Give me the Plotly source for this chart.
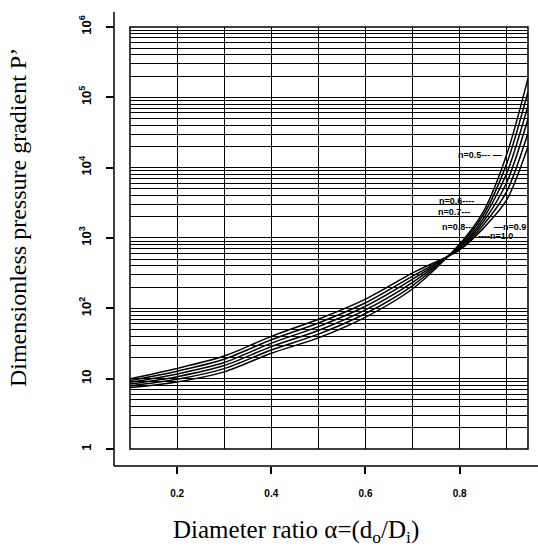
import plotly.graph_objects as go

# ---- data ----
alpha = [0.1, 0.2, 0.3, 0.4, 0.5, 0.6, 0.7, 0.8, 0.85, 0.9, 0.945]

p_n05 = [7.5, 9.0, 12.5, 23.0, 38.0, 75.0, 190.0, 820.0, 2350.0, 15500.0, 186000.0]
p_n06 = [7.9, 9.8, 13.9, 25.6, 43.0, 84.5, 211.0, 790.0, 2110.0, 11500.0, 119000.0]
p_n07 = [8.4, 10.7, 15.4, 28.6, 48.5, 95.0, 234.0, 760.0, 1890.0, 8400.0, 76000.0]
p_n08 = [8.9, 11.7, 17.0, 32.0, 55.0, 107.0, 260.0, 730.0, 1700.0, 6200.0, 49000.0]
p_n09 = [9.4, 12.8, 18.9, 35.8, 62.0, 120.0, 288.0, 700.0, 1530.0, 4600.0, 31000.0]
p_n10 = [10.0, 14.0, 21.0, 40.0, 70.0, 135.0, 320.0, 680.0, 1370.0, 3500.0, 20000.0]

series = [p_n05, p_n06, p_n07, p_n08, p_n09, p_n10]
series_names = ["n=0.5", "n=0.6", "n=0.7", "n=0.8", "n=0.9", "n=1.0"]

x_tick_vals = [0.2, 0.4, 0.6, 0.8]
x_tick_text = ["0.2", "0.4", "0.6", "0.8"]
x_minor_vals = [0.1, 0.3, 0.5, 0.7, 0.9]
y_tick_vals = [1, 10, 100, 1000, 10000, 100000, 1000000]
y_tick_text = ["1", "10", "10<sup>2</sup>", "10<sup>3</sup>", "10<sup>4</sup>",
               "10<sup>5</sup>", "10<sup>6</sup>"]
y_minor_vals = [m * 10 ** k for k in range(6) for m in range(2, 10)]

# label texts and their anchor positions (alpha, log10 P)
label_texts = ["n=0.5--- \u2014", "n=0.6----", "n=0.7---", "n=0.8---", "\u2014n=0.9", "----n=1.0"]
label_x = [0.894, 0.834, 0.826, 0.834, 0.868, 0.834]
label_y = [4.18, 3.527, 3.371, 3.159, 3.159, 3.031]
label_anchor = ["right", "right", "right", "right", "left", "left"]

fig = go.Figure()
for vals, name in zip(series, series_names):
    fig.add_trace(go.Scatter(x=alpha, y=vals, mode="lines", name=name,
                             line=dict(color="black", width=1.5, shape="spline", smoothing=0.8)))

for t, lx, ly, an in zip(label_texts, label_x, label_y, label_anchor):
    fig.add_annotation(x=lx, y=ly, xref="x", yref="y", text=t, showarrow=False,
                       xanchor=an, yanchor="middle",
                       font=dict(family="Liberation Sans", size=9, color="black", weight=700))

grid_w = 1.2
fig.update_xaxes(range=[0.1, 0.945], domain=[0.0377, 0.9764], anchor="free", position=0,
                 tickmode="array", tickvals=x_tick_vals, ticktext=x_tick_text,
                 ticks="outside", ticklen=7, tickwidth=1.5, tickcolor="black",
                 ticklabelstandoff=11,
                 tickfont=dict(family="Liberation Sans", size=10, color="black", weight=700),
                 showgrid=True, gridcolor="black", gridwidth=grid_w,
                 minor=dict(tickmode="array", tickvals=x_minor_vals, showgrid=True,
                            gridcolor="black", gridwidth=grid_w, ticks=""),
                 showline=False, zeroline=False)

fig.update_yaxes(type="log", range=[0, 6], domain=[0.0373, 0.9671], anchor="free", position=0,
                 tickmode="array", tickvals=y_tick_vals, ticktext=y_tick_text, tickangle=-90,
                 ticks="outside", ticklen=8, tickwidth=1.5, tickcolor="black",
                 ticklabelstandoff=10,
                 tickfont=dict(family="Liberation Sans", size=13, color="black", weight=700),
                 showgrid=True, gridcolor="black", gridwidth=grid_w,
                 minor=dict(tickmode="array", tickvals=y_minor_vals, showgrid=True,
                            gridcolor="black", gridwidth=grid_w, ticks=""),
                 showline=False, zeroline=False)

# axis lines (offset from the grid box) and grid box
fig.add_shape(type="line", xref="paper", yref="paper", x0=0, x1=0, y0=0, y1=1,
              line=dict(color="black", width=1.5))
fig.add_shape(type="line", xref="paper", yref="paper", x0=0, x1=1, y0=0, y1=0,
              line=dict(color="black", width=1.5))
fig.add_shape(type="rect", xref="x domain", yref="y domain", x0=0, x1=1, y0=0, y1=1,
              line=dict(color="black", width=1.5))

# axis titles
fig.add_annotation(xref="paper", yref="paper", x=-0.2264, y=0.546, textangle=-90,
                   text="Dimensionless pressure gradient P\u2019", showarrow=False,
                   xanchor="center", yanchor="middle",
                   font=dict(family="Liberation Serif", size=24, color="black"))
fig.add_annotation(xref="paper", yref="paper", x=0.429, y=-0.1447,
                   text="Diameter ratio \u03b1=(d<sub>o</sub>/D<sub>i</sub>)", showarrow=False,
                   xanchor="center", yanchor="middle",
                   font=dict(family="Liberation Serif", size=25, color="black"))

fig.update_layout(width=538, height=548, margin=dict(l=114, r=0, t=10, b=82),
                  paper_bgcolor="white", plot_bgcolor="white", showlegend=False)

fig.write_html("out.html", config={"displayModeBar": False},
               post_script="document.body.style.margin='0';document.body.style.overflow='hidden';")
